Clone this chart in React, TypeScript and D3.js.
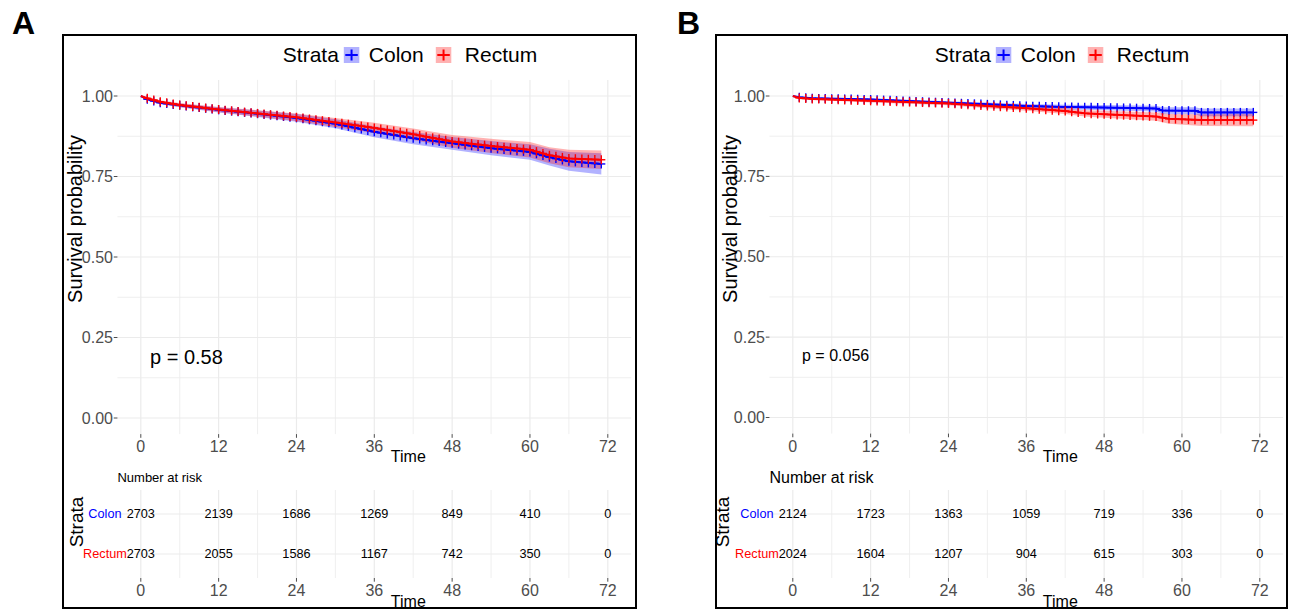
import React, { useEffect, useRef } from "react";
import * as d3 from "d3";

// shared axes
const timeTicks = [0, 12, 24, 36, 48, 60, 72];
const timeMinor = [6, 18, 30, 42, 54, 66];
const survTicks = [0, 0.25, 0.5, 0.75, 1];
const survMinor = [0.125, 0.375, 0.625, 0.875];
const strata = ["Colon", "Rectum"];
const strataColors = ["#0000FF", "#FF0000"];
const censorMonths = [
  1, 2, 3, 4, 5, 6, 7, 8, 9, 10, 11, 12, 13, 14, 15, 16, 17, 18, 19, 20, 21, 22, 23, 24,
  25, 26, 27, 28, 29, 30, 31, 32, 33, 34, 35, 36, 37, 38, 39, 40, 41, 42, 43, 44, 45, 46,
  47, 48, 49, 50, 51, 52, 53, 54, 55, 56, 57, 58, 59, 60, 61, 62, 63, 64, 65, 66, 67, 68,
  69, 70, 71,
];

// panel A
const colonTimesA = [0, 1, 3, 6, 12, 18, 24, 30, 36, 42, 48, 54, 60, 63, 66, 71];
const colonSurvA = [1, 0.99, 0.979, 0.971, 0.957, 0.945, 0.932, 0.914, 0.889, 0.869, 0.853, 0.838, 0.826, 0.81, 0.797, 0.789];
const colonCiA = [0, 0.003, 0.005, 0.006, 0.008, 0.01, 0.012, 0.014, 0.017, 0.019, 0.02, 0.022, 0.024, 0.026, 0.029, 0.033];
const rectumTimesA = [0, 1, 3, 6, 12, 18, 24, 30, 36, 42, 48, 54, 60, 63, 66, 71];
const rectumSurvA = [1, 0.993, 0.982, 0.972, 0.958, 0.946, 0.934, 0.918, 0.901, 0.881, 0.859, 0.845, 0.833, 0.816, 0.806, 0.802];
const rectumCiA = [0, 0.003, 0.005, 0.006, 0.008, 0.01, 0.012, 0.014, 0.016, 0.018, 0.02, 0.022, 0.024, 0.025, 0.027, 0.029];
const riskColonA = [2703, 2139, 1686, 1269, 849, 410, 0];
const riskRectumA = [2703, 2055, 1586, 1167, 742, 350, 0];
const pValueA = "p = 0.58";

// panel B
const colonTimesB = [0, 1, 3, 12, 24, 30, 36, 42, 48, 56, 57, 62, 63, 71];
const colonSurvB = [1, 0.996, 0.993, 0.989, 0.979, 0.974, 0.969, 0.966, 0.964, 0.961, 0.955, 0.954, 0.949, 0.949];
const colonCiB = [0, 0.002, 0.003, 0.004, 0.005, 0.006, 0.006, 0.007, 0.008, 0.009, 0.01, 0.011, 0.012, 0.012];
const rectumTimesB = [0, 1, 3, 12, 24, 30, 36, 42, 45, 48, 56, 58, 63, 71];
const rectumSurvB = [1, 0.994, 0.991, 0.985, 0.977, 0.969, 0.962, 0.953, 0.946, 0.943, 0.936, 0.929, 0.925, 0.925];
const rectumCiB = [0, 0.002, 0.003, 0.005, 0.006, 0.007, 0.008, 0.009, 0.01, 0.011, 0.013, 0.015, 0.018, 0.019];
const riskColonB = [2124, 1723, 1363, 1059, 719, 336, 0];
const riskRectumB = [2024, 1604, 1207, 904, 615, 303, 0];
const pValueB = "p = 0.056";

const FONT = "'Liberation Sans', Arial, Helvetica, sans-serif";
const GRID = "#ebebeb";
const TICK = "#4d4d4d";

const panels = [
  {
    letter: "A", letterX: 12, frameX: 63, frameW: 573,
    x0: 140.8, x72: 607.8, yZero: 418, yOne: 96,
    curves: [
      { times: colonTimesA, surv: colonSurvA, ci: colonCiA },
      { times: rectumTimesA, surv: rectumSurvA, ci: rectumCiA },
    ],
    risk: [riskColonA, riskRectumA],
    pValue: pValueA, pX: 150, pY: 357, pSize: 20,
    ylabX: 75, riskStrataX: 76.5, nrSize: 13,
  },
  {
    letter: "B", letterX: 677, frameX: 716, frameW: 571,
    x0: 792.8, x72: 1259.8, yZero: 417.5, yOne: 96,
    curves: [
      { times: colonTimesB, surv: colonSurvB, ci: colonCiB },
      { times: rectumTimesB, surv: rectumSurvB, ci: rectumCiB },
    ],
    risk: [riskColonB, riskRectumB],
    pValue: pValueB, pX: 802, pY: 355, pSize: 16,
    ylabX: 730, riskStrataX: 722.5, nrSize: 16,
  },
];

function drawPanel(root: any, cfg: any) {
  const g = root.append("g").attr("font-family", FONT);
  const x = d3.scaleLinear().domain([0, 72]).range([cfg.x0, cfg.x72]);
  const y = d3.scaleLinear().domain([0, 1]).range([cfg.yZero, cfg.yOne]);
  const left = x(-3.6), right = x(75.6), top = y(1.05), bottom = y(-0.05);
  const midX = (left + right) / 2 + 34;

  // frame + letter
  g.append("rect")
    .attr("x", cfg.frameX).attr("y", 35)
    .attr("width", cfg.frameW).attr("height", 573)
    .attr("fill", "none").attr("stroke", "#000").attr("stroke-width", 2);
  g.append("text")
    .attr("x", cfg.letterX).attr("y", 34)
    .attr("font-size", 32).attr("font-weight", "bold")
    .text(cfg.letter);

  // survival grid
  const grid = g.append("g").attr("stroke", GRID);
  grid.selectAll("line.hm").data(survMinor).enter().append("line")
    .attr("x1", left).attr("x2", right).attr("y1", d => y(d)).attr("y2", d => y(d))
    .attr("stroke-width", 0.8);
  grid.selectAll("line.vm").data(timeMinor).enter().append("line")
    .attr("y1", top).attr("y2", bottom).attr("x1", d => x(d)).attr("x2", d => x(d))
    .attr("stroke-width", 0.8);
  grid.selectAll("line.h").data(survTicks).enter().append("line")
    .attr("x1", left).attr("x2", right).attr("y1", d => y(d)).attr("y2", d => y(d))
    .attr("stroke-width", 1.2);
  grid.selectAll("line.v").data(timeTicks).enter().append("line")
    .attr("y1", top).attr("y2", bottom).attr("x1", d => x(d)).attr("x2", d => x(d))
    .attr("stroke-width", 1.2);

  // y axis
  const yAx = g.append("g");
  yAx.selectAll("line").data(survTicks).enter().append("line")
    .attr("x1", left - 3.7).attr("x2", left).attr("y1", d => y(d)).attr("y2", d => y(d))
    .attr("stroke", TICK).attr("stroke-width", 1);
  yAx.selectAll("text").data(survTicks).enter().append("text")
    .attr("x", left - 4.5).attr("y", d => y(d)).attr("dy", "0.35em")
    .attr("text-anchor", "end").attr("font-size", 16).attr("fill", TICK)
    .text(d => d3.format(".2f")(d));

  // x axis (top plot)
  const xAx = g.append("g");
  xAx.selectAll("line").data(timeTicks).enter().append("line")
    .attr("x1", d => x(d)).attr("x2", d => x(d)).attr("y1", bottom).attr("y2", bottom + 3.7)
    .attr("stroke", TICK).attr("stroke-width", 1);
  xAx.selectAll("text").data(timeTicks).enter().append("text")
    .attr("x", d => x(d)).attr("y", 446).attr("dy", "0.35em")
    .attr("text-anchor", "middle").attr("font-size", 16).attr("fill", TICK)
    .text(d => d);
  g.append("text").attr("x", midX).attr("y", 456).attr("dy", "0.35em")
    .attr("text-anchor", "middle").attr("font-size", 16).text("Time");

  g.append("text")
    .attr("transform", `translate(${cfg.ylabX},219) rotate(-90)`)
    .attr("dy", "0.35em").attr("text-anchor", "middle").attr("font-size", 20)
    .text("Survival probability");

  // ribbons, curves, censor marks
  const area = d3.area<number>();
  const line = d3.line<number>();
  cfg.curves.forEach((c: any, i: number) => {
    g.append("path")
      .attr("d", area
        .x((_, k) => x(c.times[k]))
        .y0((_, k) => y(c.surv[k] - c.ci[k]))
        .y1((_, k) => y(Math.min(1, c.surv[k] + c.ci[k])))(c.times))
      .attr("fill", strataColors[i]).attr("fill-opacity", 0.3);
  });
  cfg.curves.forEach((c: any, i: number) => {
    g.append("path")
      .attr("d", line.x((_, k) => x(c.times[k])).y((_, k) => y(c.surv[k]))(c.times))
      .attr("fill", "none").attr("stroke", strataColors[i]).attr("stroke-width", 2);
    const interp = d3.scaleLinear().domain(c.times).range(c.surv);
    const marks = g.append("g").attr("stroke", strataColors[i]).attr("stroke-width", 1.4);
    censorMonths.forEach(t => {
      const cx = x(t), cy = y(interp(t));
      marks.append("line").attr("x1", cx - 4).attr("x2", cx + 4).attr("y1", cy).attr("y2", cy);
      marks.append("line").attr("x1", cx).attr("x2", cx).attr("y1", cy - 4.5).attr("y2", cy + 4.5);
    });
  });

  g.append("text").attr("x", cfg.pX).attr("y", cfg.pY).attr("dy", "0.35em")
    .attr("font-size", cfg.pSize).text(cfg.pValue);

  // legend
  const lg = g.append("g").attr("transform", `translate(${cfg.x0},55)`);
  lg.append("text").attr("x", 142).attr("dy", "0.35em").attr("font-size", 21).text("Strata");
  const keyX = [203, 295];
  const labX = [228, 324];
  strata.forEach((s, i) => {
    lg.append("rect").attr("x", keyX[i]).attr("y", -8).attr("width", 15.5).attr("height", 16)
      .attr("fill", strataColors[i]).attr("fill-opacity", 0.3);
    lg.append("line").attr("x1", keyX[i] + 1.5).attr("x2", keyX[i] + 14).attr("y1", 0).attr("y2", 0)
      .attr("stroke", strataColors[i]).attr("stroke-width", 2);
    lg.append("line").attr("x1", keyX[i] + 7.75).attr("x2", keyX[i] + 7.75).attr("y1", -5.5).attr("y2", 5.5)
      .attr("stroke", strataColors[i]).attr("stroke-width", 2);
    lg.append("text").attr("x", labX[i]).attr("dy", "0.35em").attr("font-size", 21).text(s);
  });

  // risk table
  const ry = d3.scalePoint().domain(strata).range([514, 554]);
  const rTop = 490, rBottom = 578;
  g.append("text").attr("x", left).attr("y", 477).attr("dy", "0.35em")
    .attr("font-size", cfg.nrSize).text("Number at risk");
  const rg = g.append("g").attr("stroke", GRID);
  rg.selectAll("line.vm").data(timeMinor).enter().append("line")
    .attr("y1", rTop).attr("y2", rBottom).attr("x1", d => x(d)).attr("x2", d => x(d))
    .attr("stroke-width", 0.8);
  rg.selectAll("line.v").data(timeTicks).enter().append("line")
    .attr("y1", rTop).attr("y2", rBottom).attr("x1", d => x(d)).attr("x2", d => x(d))
    .attr("stroke-width", 1.2);
  rg.selectAll("line.h").data(strata).enter().append("line")
    .attr("x1", left).attr("x2", right).attr("y1", d => ry(d)!).attr("y2", d => ry(d)!)
    .attr("stroke-width", 1.2);

  strata.forEach((s, i) => {
    g.append("text").attr("x", left - 12.5).attr("y", ry(s)!).attr("dy", "0.35em")
      .attr("text-anchor", "middle").attr("font-size", 12.7).attr("fill", strataColors[i])
      .text(s);
    g.append("g").selectAll("text").data(cfg.risk[i] as number[]).enter().append("text")
      .attr("x", (_, k) => x(timeTicks[k])).attr("y", ry(s)!).attr("dy", "0.35em")
      .attr("text-anchor", "middle").attr("font-size", 12.7).attr("fill", "#000")
      .text(d => d);
  });
  g.append("text")
    .attr("transform", `translate(${cfg.riskStrataX},522) rotate(-90)`)
    .attr("dy", "0.35em").attr("text-anchor", "middle").attr("font-size", 19)
    .text("Strata");

  const bx = g.append("g");
  bx.selectAll("line").data(timeTicks).enter().append("line")
    .attr("x1", d => x(d)).attr("x2", d => x(d)).attr("y1", rBottom).attr("y2", rBottom + 3.7)
    .attr("stroke", TICK).attr("stroke-width", 1);
  bx.selectAll("text").data(timeTicks).enter().append("text")
    .attr("x", d => x(d)).attr("y", 590).attr("dy", "0.35em")
    .attr("text-anchor", "middle").attr("font-size", 16).attr("fill", TICK)
    .text(d => d);
  g.append("text").attr("x", midX).attr("y", 601).attr("dy", "0.35em")
    .attr("text-anchor", "middle").attr("font-size", 16).text("Time");
}

export default function App() {
  const ref = useRef<SVGSVGElement>(null);

  useEffect(() => {
    const svg = d3.select(ref.current);
    svg.selectAll("*").remove();
    svg.append("rect").attr("width", 1289).attr("height", 610).attr("fill", "#fff");
    panels.forEach(p => drawPanel(svg, p));
  }, []);

  return (
    <svg
      ref={ref}
      width={1289}
      height={610}
      style={{ position: "absolute", left: 0, top: 0, display: "block" }}
    />
  );
}
